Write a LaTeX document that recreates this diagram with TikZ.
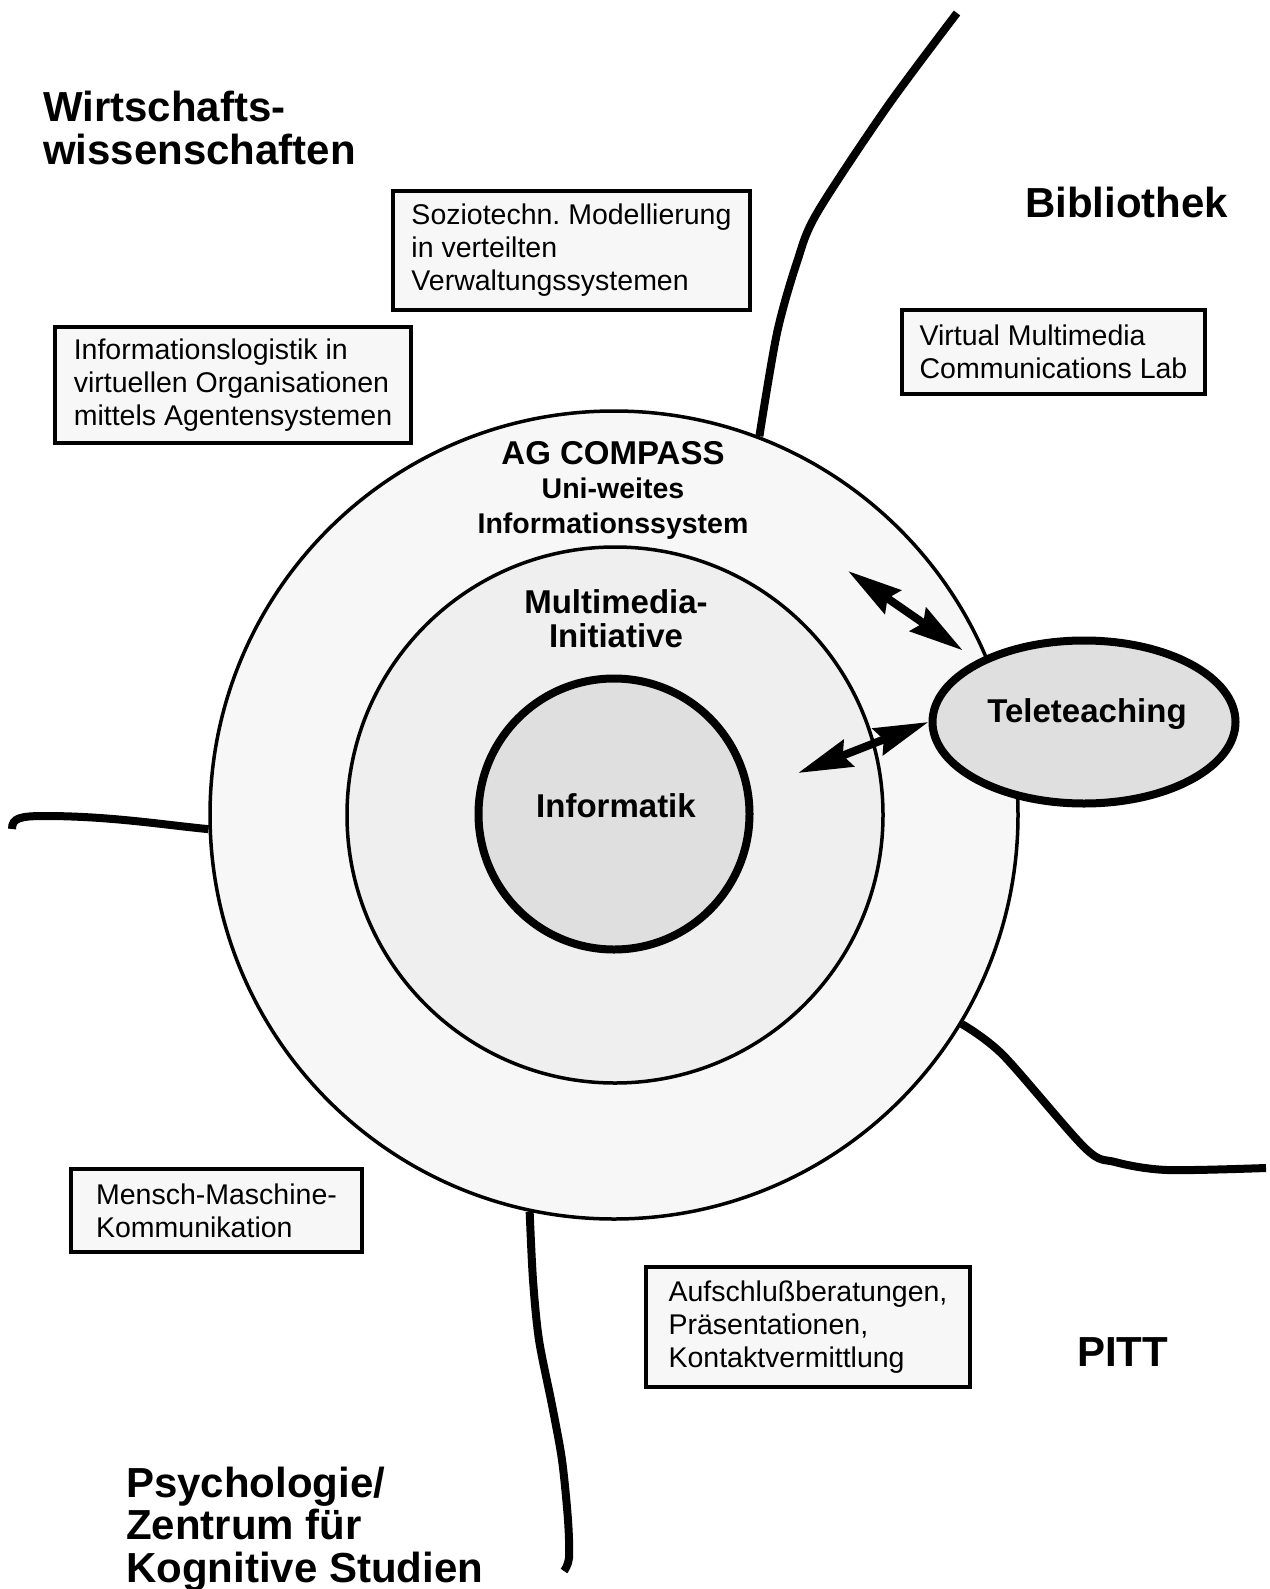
\documentclass[tikz,border=0pt]{standalone}
\usepackage{fontspec}
\setmainfont{Liberation Sans}
\usetikzlibrary{arrows.meta,shapes.geometric}
\frenchspacing

\definecolor{ringgray}{HTML}{F7F7F7}
\definecolor{midgray}{HTML}{EFEFEF}
\definecolor{coregray}{HTML}{DFDFDF}
\definecolor{boxgray}{HTML}{F7F7F7}

\newcommand{\areafont}{\fontsize{42}{41.5}\selectfont\bfseries}
\newcommand{\ringfont}{\fontsize{33}{34.5}\selectfont\bfseries}
\newcommand{\subfont}{\fontsize{28.5}{34}\selectfont\bfseries}
\newcommand{\boxfont}{\fontsize{28.5}{33}\selectfont}

\tikzset{
  areaname/.style={anchor=base west, inner sep=0pt, font=\areafont},
  ringtext/.style={anchor=base, inner sep=0pt, font=\ringfont},
  disc/.style={circle, draw, inner sep=0pt},
  infobox/.style={draw, line width=3.5pt, fill=boxgray, align=left, inner sep=0pt, font=\boxfont},
  fenceline/.style={line width=8pt},
  dblarrow/.style={line width=8pt, >={Stealth[length=54pt,width=28pt,inset=6pt]}, <->}
}

\begin{document}
\begin{tikzpicture}[x=1pt,y=-1pt]
\useasboundingbox (0,0) rectangle (1269,1589);

% circles
\node[disc, line width=3.5pt, fill=ringgray, minimum size=808pt] (ring) at (614,815) {};
\node[disc, line width=3.5pt, fill=midgray, minimum size=536pt] (mmi) at (615,815) {};
\node[disc, line width=8pt, fill=coregray, minimum size=271pt] (inf) at (614,814) {};
\node[ellipse, draw, line width=8pt, fill=coregray, minimum width=303pt, minimum height=163pt, inner sep=0pt] (tele) at (1084,722) {};

% borders between the areas
\coordinate (bib end) at (957,13);
\coordinate (wiwi end) at (12,829);
\coordinate (pitt end) at (1266,1168);
\coordinate (psych end) at (564,1571);
\draw[fenceline] plot[smooth] coordinates {(bib end) (887,107) (817,213) (797,262) (777,333) (ring.69.6)};
\draw[fenceline] (wiwi end) .. controls (12,818) and (20,816) .. (45,816) .. controls (110,816) and (165,825) .. (ring.182.4);
\draw[fenceline] plot[smooth] coordinates {(ring.329.8) (1003,1055) (1085,1148) (1115,1162) (1167,1170) (pitt end)};
\draw[fenceline] plot[smooth] coordinates {(ring.258.3) (533,1280) (539,1340) (552,1405) (562,1460) (568,1520) (569,1558) (psych end)};

% arrows
\coordinate (ring arrow) at (848,571);
\coordinate (mmi arrow) at (798,773);
\draw[dblarrow, shorten >=17pt] (ring arrow) -- (tele.150);
\draw[dblarrow] (mmi arrow) -- (tele.west);

% texts in the circles
\node[ringtext] (compass) at (613,464) {\begin{tabular}[t]{@{}c@{}}AG COMPASS\\\subfont Uni-weites\\\subfont Informationssystem\end{tabular}};
\node[ringtext] (mmi text) at (616,613) {\begin{tabular}[t]{@{}c@{}}Multimedia-\\Initiative\end{tabular}};
\node[ringtext] (inf text) at (616,817) {Informatik};
\node[ringtext] (tele text) at (1087,722) {Teleteaching};

% projects
\node[infobox, minimum width=357pt, minimum height=119pt] (sozio) at (571.5,250.5) {Soziotechn. Modellierung\\in verteilten\\Verwaltungssystemen};
\node[infobox, minimum width=356pt, minimum height=116pt] (infolog) at (233,385) {Informationslogistik in\\virtuellen Organisationen\\mittels Agentensystemen};
\node[infobox, minimum width=303pt, minimum height=84pt] (vmcl) at (1053.5,352) {Virtual Multimedia\\Communications Lab};
\node[infobox, minimum width=291pt, minimum height=83pt] (mmk) at (216.5,1210.5) {Mensch-Maschine-\\Kommunikation};
\node[infobox, minimum width=324pt, minimum height=120pt] (beratung) at (808,1327) {Aufschlußberatungen,\\Präsentationen,\\Kontaktvermittlung};

% areas
\node[areaname] (wiwi) at (43,122) {\begin{tabular}[t]{@{}l@{}}Wirtschafts-\\wissenschaften\end{tabular}};
\node[areaname] (bib) at (1025,218) {Bibliothek};
\node[areaname] (pitt) at (1077,1366) {PITT};
\node[areaname] (psych) at (126,1497) {\begin{tabular}[t]{@{}l@{}}Psychologie/\\Zentrum für\\Kognitive Studien\end{tabular}};
\end{tikzpicture}
\end{document}
